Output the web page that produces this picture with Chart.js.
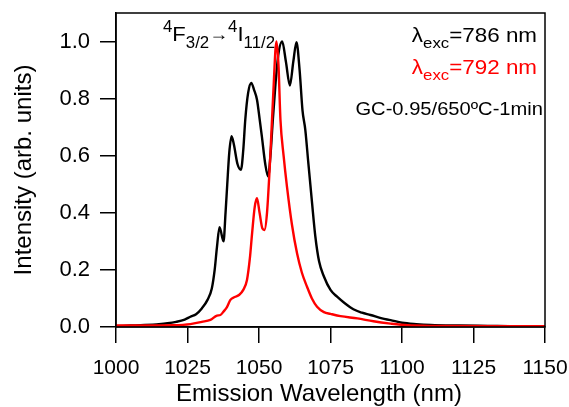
<!DOCTYPE html>
<html>
<head>
<meta charset="utf-8">
<script src="https://cdn.jsdelivr.net/npm/chart.js@4.4.0/dist/chart.umd.min.js"></script>
<style>
  html, body { margin: 0; padding: 0; background: #fff; }
</style>
</head>
<body>
<canvas id="chart" width="569" height="407"></canvas>
<script>
const FONT = "'Liberation Sans', Arial, sans-serif";

const xTicks = [1000, 1025, 1050, 1075, 1100, 1125, 1150];
const yTicks = [0.0, 0.2, 0.4, 0.6, 0.8, 1.0];

// lambda_exc = 786 nm (black)
const blackWavelength = [1000, 1005, 1010, 1015, 1018, 1021, 1024, 1026, 1028, 1030, 1032, 1033.5, 1034.5, 1035.3,
  1036.2, 1037.6, 1038.3, 1038.9, 1039.6, 1040.4, 1041.2, 1042.5, 1043.7, 1044.5, 1045.2, 1046.2, 1047.3,
  1048.3, 1049.3, 1050.2, 1051, 1052.2, 1053.2, 1054, 1054.8, 1055.7, 1056.7, 1058.1, 1059.4, 1060.8, 1062,
  1063.1, 1064.2, 1065.2, 1066.2, 1067.2, 1068.5, 1069.7, 1071, 1072.7, 1075, 1077.3, 1080, 1083, 1086, 1089,
  1093, 1096, 1100, 1105, 1110, 1120, 1130, 1140, 1150];
const blackIntensity = [0.003, 0.005, 0.007, 0.01, 0.013, 0.018, 0.026, 0.036, 0.045, 0.065, 0.095, 0.135, 0.2, 0.28,
  0.35, 0.30, 0.40, 0.50, 0.61, 0.668, 0.64, 0.57, 0.551, 0.62, 0.726, 0.82, 0.855,
  0.83, 0.796, 0.73, 0.668, 0.57, 0.527, 0.60, 0.72, 0.843, 0.95, 1.0, 0.93, 0.846, 0.93,
  0.998, 0.90, 0.76, 0.69, 0.58, 0.44, 0.317, 0.23, 0.177, 0.13, 0.106, 0.083, 0.062, 0.05, 0.042,
  0.03, 0.024, 0.015, 0.01, 0.007, 0.005, 0.004, 0.003, 0.003];

// lambda_exc = 792 nm (red)
const redWavelength = [1000, 1010, 1020, 1026, 1030, 1033, 1035.3, 1036.5, 1037.6, 1038.8, 1040, 1041.5, 1043,
  1044.5, 1045.8, 1046.8, 1047.6, 1048.5, 1049.3, 1050.2, 1051.2, 1051.9, 1052.8, 1054, 1055, 1056.1, 1056.8,
  1057.5, 1058.6, 1059.8, 1061.5, 1063.3, 1065, 1066.8, 1068.5, 1070.3, 1072.7, 1075, 1078.5, 1084.4, 1090,
  1096, 1102, 1110, 1150];
const redIntensity = [0.005, 0.005, 0.006, 0.01, 0.018, 0.025, 0.04, 0.042, 0.054, 0.07, 0.095, 0.105, 0.112,
  0.13, 0.165, 0.24, 0.33, 0.42, 0.451, 0.40, 0.345, 0.34, 0.40, 0.609, 0.82, 1.0, 0.92,
  0.726, 0.60, 0.49, 0.36, 0.258, 0.19, 0.141, 0.10, 0.071, 0.052, 0.046, 0.038, 0.03, 0.02,
  0.012, 0.006, 0.004, 0.003];

const toPoints = (xs, ys) => xs.map((x, i) => ({ x: x, y: ys[i] }));

// text pieces: [text, kind] with kind n / sup / sub / arrow; sx stretches horizontally
function drawRich(ctx, parts, x, y, align, color, size, sx) {
  const small = Math.round(size * 0.74);
  const fontFor = k => (k === 'n' ? size : k === 'arrow' ? Math.round(size * 0.85) : small) + 'px ' + FONT;
  let total = 0;
  parts.forEach(([t, k]) => { ctx.font = fontFor(k); total += ctx.measureText(t).width; });
  ctx.save();
  ctx.translate(align === 'right' ? x - total * sx : x, y);
  ctx.scale(sx, 1);
  ctx.fillStyle = color;
  ctx.textBaseline = 'alphabetic';
  ctx.textAlign = 'left';
  let cx = 0;
  parts.forEach(([t, k]) => {
    ctx.font = fontFor(k);
    let dy = 0;
    if (k === 'sub') dy = size * 0.32;
    if (k === 'sup') dy = -size * 0.42;
    if (k === 'arrow') dy = -1;
    ctx.fillText(t, cx, dy);
    cx += ctx.measureText(t).width;
  });
  ctx.restore();
}

const framePlugin = {
  id: 'frame',
  afterDraw(chart) {
    const { ctx, chartArea: a } = chart;
    ctx.save();
    ctx.strokeStyle = '#000';
    ctx.lineWidth = 1.5;
    ctx.strokeRect(a.left, a.top, a.right - a.left, a.bottom - a.top);

    drawRich(ctx, [['4', 'sup'], ['F', 'n'], ['3/2', 'sub'], ['\u2192', 'arrow'], ['4', 'sup'], ['I', 'n'], ['11/2', 'sub']],
      163, 41, 'left', '#000', 21, 1.05);
    drawRich(ctx, [['\u03bb', 'n'], ['exc', 'sub'], ['=786 nm', 'n']], 537, 42, 'right', '#000', 20, 1.12);
    drawRich(ctx, [['\u03bb', 'n'], ['exc', 'sub'], ['=792 nm', 'n']], 537, 74, 'right', '#ff0000', 20, 1.12);
    drawRich(ctx, [['GC-0.95/650\u00baC-1min', 'n']], 543, 115, 'right', '#000', 19, 1.06);

    // x axis title
    ctx.fillStyle = '#000';
    ctx.font = '24px ' + FONT;
    ctx.textAlign = 'center';
    ctx.textBaseline = 'alphabetic';
    ctx.fillText('Emission Wavelength (nm)', 319, 401);
    ctx.restore();
  }
};

new Chart(document.getElementById('chart'), {
  type: 'scatter',
  data: {
    datasets: [
      {
        label: '792 nm',
        data: toPoints(redWavelength, redIntensity),
        borderColor: '#ff0000',
        borderWidth: 2.4,
        showLine: true,
        pointRadius: 0,
        cubicInterpolationMode: 'monotone'
      },
      {
        label: '786 nm',
        data: toPoints(blackWavelength, blackIntensity),
        borderColor: '#000000',
        borderWidth: 2.4,
        showLine: true,
        pointRadius: 0,
        cubicInterpolationMode: 'monotone'
      }
    ]
  },
  options: {
    responsive: false,
    animation: false,
    devicePixelRatio: 1,
    layout: { padding: { top: 13, right: 24, bottom: 0, left: 0 } },
    plugins: {
      legend: { display: false },
      tooltip: { enabled: false }
    },
    scales: {
      x: {
        type: 'linear',
        min: 1000,
        max: 1150,
        afterBuildTicks: s => { s.ticks = xTicks.map(v => ({ value: v })); },
        afterFit: s => { s.height = 80; s.paddingLeft = 0; s.paddingRight = 0; },
        grid: { drawOnChartArea: false, drawTicks: true, tickLength: 16, color: '#000', lineWidth: 1.5 },
        border: { display: true, color: '#000', width: 1.5 },
        ticks: {
          color: '#000',
          font: { family: FONT, size: 21 },
          padding: 13,
          maxRotation: 0,
          autoSkip: false,
          callback: v => String(v)
        },
        title: { display: false }
      },
      y: {
        min: 0,
        max: 1.1,
        afterBuildTicks: s => { s.ticks = yTicks.map(v => ({ value: v })); },
        afterFit: s => { s.width = 116; s.paddingTop = 0; s.paddingBottom = 0; },
        grid: { drawOnChartArea: false, drawTicks: true, tickLength: 16, color: '#000', lineWidth: 1.5 },
        border: { display: true, color: '#000', width: 1.5 },
        ticks: {
          color: '#000',
          font: { family: FONT, size: 22 },
          padding: 10,
          callback: v => v.toFixed(1)
        },
        title: {
          display: true,
          text: 'Intensity (arb. units)',
          color: '#000',
          font: { family: FONT, size: 24 },
          padding: { top: 10, bottom: 0 }
        }
      }
    }
  },
  plugins: [framePlugin]
});
</script>
</body>
</html>
